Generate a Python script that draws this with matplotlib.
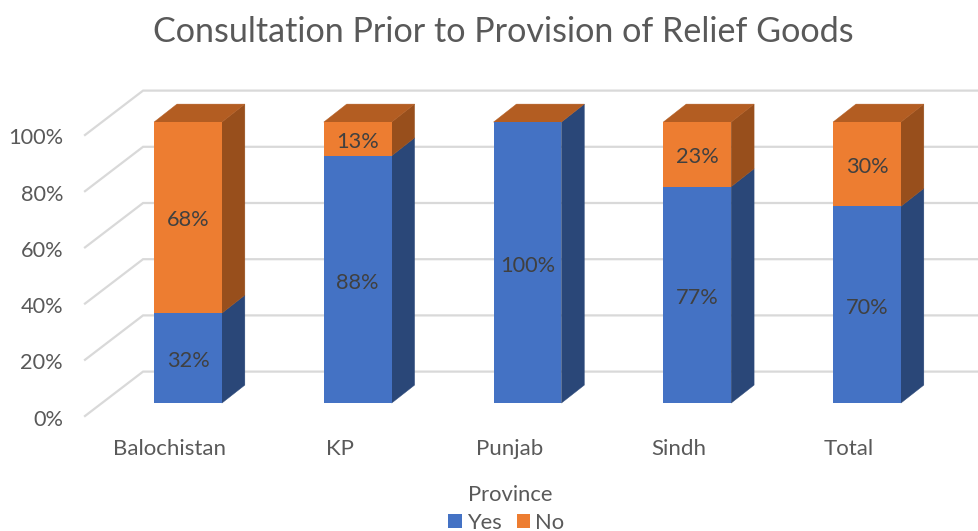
from matplotlib import pyplot as plt
from matplotlib.patches import Polygon
from matplotlib.transforms import ScaledTranslation

provinces = ["Balochistan", "KP", "Punjab", "Sindh", "Total"]
yes_share = [32, 88, 100, 77, 70]
no_share = [68, 13, 0, 23, 30]
y_ticks = [0, 20, 40, 60, 80, 100]

BLUE, BLUE_SIDE = "#4472C4", "#2A4778"
ORANGE, ORANGE_SIDE, ORANGE_TOP = "#ED7D31", "#984F1C", "#B35D22"
GRID = "#D9D9D9"
TEXT = "#595959"
LABEL = "#404040"

# the fake 3d look, in data units of the axes (1 x unit = 169.75 px, 1 y unit = 2.81 px)
BAR_WIDTH = 0.40
BAR_SHIFT = 0.106
BASE = 4.6
DEPTH_X, DEPTH_Y = 0.135, 6.4
WALL_X, WALL_Y = 0.342, 15.8


def draw_side(ax, x, low, high, color):
    right = x + BAR_WIDTH / 2
    ax.add_patch(Polygon(
        [(right, BASE + low), (right + DEPTH_X, BASE + low + DEPTH_Y),
         (right + DEPTH_X, BASE + high + DEPTH_Y), (right, BASE + high)],
        facecolor=color, edgecolor=color, linewidth=0.3, zorder=3, clip_on=False))


def draw_top(ax, x, height, color):
    left, right = x - BAR_WIDTH / 2, x + BAR_WIDTH / 2
    top = BASE + height
    ax.add_patch(Polygon(
        [(left, top), (right, top), (right + DEPTH_X, top + DEPTH_Y), (left + DEPTH_X, top + DEPTH_Y)],
        facecolor=color, edgecolor=color, linewidth=0.3, zorder=3, clip_on=False))


def main():
    fig = plt.figure(figsize=(9.79, 5.31), dpi=100)
    plt.rcParams["font.family"] = ["Lato", "DejaVu Sans"]
    ax = fig.add_axes([85 / 979, (531 - 416) / 531, (979 - 85) / 979, 281 / 531])
    ax.set_xlim(-0.5007, 4.766)
    ax.set_ylim(0, 100)
    for spine in ax.spines.values():
        spine.set_visible(False)

    # gridlines run up the side wall and then along the back wall
    for tick in y_ticks:
        ax.plot([-0.5007, -0.5007 + WALL_X, 4.766], [tick, tick + WALL_Y, tick + WALL_Y],
                color=GRID, linewidth=1.6, zorder=1, clip_on=False, solid_joinstyle="miter")

    positions = [i + BAR_SHIFT for i in range(len(provinces))]
    yes_top = [min(v, 100) for v in yes_share]
    no_top = [min(y + n, 100) for y, n in zip(yes_share, no_share)]
    no_height = [t - y for t, y in zip(no_top, yes_top)]
    ax.bar(positions, yes_top, BAR_WIDTH, bottom=BASE, color=BLUE, label="Yes", zorder=4, clip_on=False)
    ax.bar(positions, no_height, BAR_WIDTH, bottom=[BASE + y for y in yes_top], color=ORANGE,
           label="No", zorder=4, clip_on=False)

    for x, y, top, yes, no in zip(positions, yes_top, no_top, yes_share, no_share):
        draw_side(ax, x, 0, y, BLUE_SIDE)
        if top > y:
            draw_side(ax, x, y, top, ORANGE_SIDE)
        draw_top(ax, x, top, ORANGE_TOP)
        ax.text(x, BASE + y / 2 - 1.2, f"{yes}%", ha="center", va="center", fontsize=15.7, color=LABEL, zorder=5)
        if no > 0:
            ax.text(x, BASE + (y + top) / 2 - 1.0, f"{no}%", ha="center", va="center", fontsize=15.7,
                    color=LABEL, zorder=5)

    ax.set_xticks(range(len(provinces)))
    ax.set_xticklabels(provinces)
    ax.set_yticks(y_ticks)
    ax.set_yticklabels([f"{t}%" for t in y_ticks])
    ax.tick_params(axis="x", length=0, pad=16.5, labelsize=16, labelcolor=TEXT)
    ax.tick_params(axis="y", length=0, pad=15.8, labelsize=15.7, labelcolor=TEXT)
    nudge = ScaledTranslation(0, -1.5 / 100, fig.dpi_scale_trans)
    for label in ax.get_yticklabels():
        label.set_transform(label.get_transform() + nudge)

    fig.text(503 / 979, 1 - 32 / 531, "Consultation Prior to Provision of Relief Goods",
             ha="center", va="center", fontsize=24.6, color=TEXT)
    fig.text(510 / 979, 1 - 495 / 531, "Province", ha="center", va="center", fontsize=15.8, color=TEXT)

    fig.legend(loc="lower center", bbox_to_anchor=(506.5 / 979, -0.024), ncol=2, frameon=False,
               handlelength=0.6, handleheight=0.6, handletextpad=0.25,
               columnspacing=0.68, fontsize=15.8, labelcolor=TEXT,
               borderpad=0, labelspacing=0)

    fig.savefig("out.png", dpi=100)


if __name__ == "__main__":
    main()
